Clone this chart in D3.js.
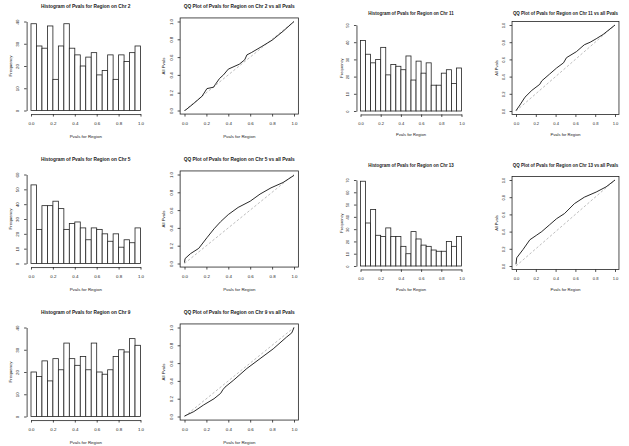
<!DOCTYPE html>
<html><head><meta charset="utf-8">
<script src="https://cdn.jsdelivr.net/npm/d3@7"></script>
<style>
body{margin:0;background:#fff}
svg{display:block}
text{font-family:"Liberation Sans",Arial,sans-serif;fill:#1a1a1a}
</style></head><body>
<svg id="c" width="629" height="446"></svg>
<script>
// ---- data ----
const binEdges = [0,0.05,0.1,0.15,0.2,0.25,0.3,0.35,0.4,0.45,0.5,0.55,0.6,0.65,0.7,0.75,0.8,0.85,0.9,0.95,1.0];
const chromosomes = ["2","5","9","11","13"];
const counts2  = [39,29,28,38,14,29,39,28,25,20,24,26,16,18,25,14,25,22,26,29];
const counts5  = [53,23,39,39,42,37,23,27,28,24,16,24,23,20,15,20,11,16,14,24];
const counts9  = [20,18,25,16,26,21,33,26,23,27,21,33,20,19,21,27,30,29,35,32];
const counts11 = [41,33,28,30,37,21,27,26,24,32,18,29,22,28,15,15,22,24,16,25];
const counts13 = [69,35,46,25,24,31,24,24,16,10,28,22,17,16,13,12,12,20,16,24];
const qq2x  = [0,0.01,0.085,0.16,0.205,0.266,0.28,0.32,0.356,0.40,0.50,0.55,0.57,0.61,0.70,0.80,0.90,1.0];
const qq2y  = [0,0.005,0.08,0.16,0.246,0.262,0.29,0.36,0.40,0.465,0.52,0.57,0.625,0.65,0.715,0.79,0.89,1.0];
const qq5x  = [0,0.005,0.054,0.13,0.205,0.27,0.33,0.40,0.49,0.60,0.69,0.79,0.90,1.0];
const qq5y  = [0.01,0.055,0.11,0.17,0.29,0.39,0.47,0.55,0.63,0.70,0.78,0.85,0.91,0.99];
const qq9x  = [0,0.085,0.175,0.27,0.33,0.35,0.37,0.45,0.57,0.69,0.81,0.93,0.98,1.0];
const qq9y  = [0.005,0.055,0.13,0.20,0.26,0.30,0.33,0.41,0.54,0.65,0.76,0.89,0.94,1.0];
const qq11x = [0,0.04,0.09,0.16,0.24,0.26,0.34,0.41,0.48,0.51,0.61,0.69,0.75,0.81,0.88,1.0];
const qq11y = [0.005,0.07,0.16,0.24,0.31,0.35,0.43,0.50,0.56,0.62,0.69,0.77,0.80,0.84,0.89,1.0];
const qq13x = [0,0.007,0.07,0.14,0.21,0.26,0.34,0.41,0.49,0.59,0.69,0.81,0.91,1.0];
const qq13y = [0.02,0.095,0.19,0.305,0.36,0.40,0.48,0.55,0.61,0.725,0.80,0.86,0.92,1.0];
const pTicks = [0,0.2,0.4,0.6,0.8,1.0];
const pTickLabels = ["0.0","0.2","0.4","0.6","0.8","1.0"];

// ---- layout ----
const panels = [
  {chr:chromosomes[0], counts:counts2,  qx:qq2x,  qy:qq2y,  hx0:31,   hx1:140.5, qx0:184.5, qx1:294, y0:110.5, span:89, fs:1,    tdy:0},
  {chr:chromosomes[1], counts:counts5,  qx:qq5x,  qy:qq5y,  hx0:31,   hx1:140.5, qx0:184.5, qx1:294, y0:263.5, span:89, fs:1,    tdy:0},
  {chr:chromosomes[2], counts:counts9,  qx:qq9x,  qy:qq9y,  hx0:31,   hx1:140.5, qx0:184.5, qx1:294, y0:416.5, span:89, fs:1,    tdy:0},
  {chr:chromosomes[3], counts:counts11, qx:qq11x, qy:qq11y, hx0:360.5,hx1:461.5, qx0:516,   qx1:615, y0:111,   span:86, fs:0.93, tdy:3},
  {chr:chromosomes[4], counts:counts13, qx:qq13x, qy:qq13y, hx0:360.5,hx1:461.5, qx0:516,   qx1:615, y0:266,   span:86, fs:0.93, tdy:0}
];
const svg = d3.select("#c");
const LINE = "#222";

function styleAxis(g, fs, rotate, gap){
  g.select(".domain").attr("stroke", LINE).attr("stroke-width", 0.8);
  g.selectAll(".tick line").attr("stroke", LINE).attr("stroke-width", 0.8);
  const t = g.selectAll(".tick text").attr("font-size", (4.4*fs)+"px").attr("fill","#1a1a1a");
  if (rotate) {
    t.attr("transform","rotate(-90)").attr("x",0).attr("y",-gap).attr("dy","0").attr("text-anchor","middle");
  } else {
    t.attr("y", gap).attr("dy","0.71em");
  }
}

panels.forEach(p => {
  const fs = p.fs;
  // ---------- histogram ----------
  const x = d3.scaleLinear().domain([0,1]).range([p.hx0, p.hx1]);
  const ylim = Math.ceil(d3.max(p.counts)/10)*10;
  const y = d3.scaleLinear().domain([0, ylim]).range([p.y0, p.y0 - p.span]);
  const g = svg.append("g");
  const bins = p.counts.map((c,i) => ({x0:binEdges[i], x1:binEdges[i+1], c}));
  g.selectAll("rect").data(bins).join("rect")
    .attr("x", d => x(d.x0)).attr("width", d => x(d.x1)-x(d.x0))
    .attr("y", d => y(d.c)).attr("height", d => y(0)-y(d.c))
    .attr("fill","#fff").attr("stroke",LINE).attr("stroke-width",0.8);
  const yTicks = d3.range(0, ylim+1, 10);
  g.append("g").attr("transform", `translate(${x(-0.04)},0)`)
    .call(d3.axisLeft(y).tickValues(yTicks).tickFormat(d3.format("d")).tickSize(2.5).tickSizeOuter(0))
    .call(a => styleAxis(a, fs, true, 7.5*fs));
  g.append("g").attr("transform", `translate(0,${y(-0.04*ylim)})`)
    .call(d3.axisBottom(x).tickValues(pTicks).tickFormat((d,i)=>pTickLabels[i]).tickSize(2.5).tickSizeOuter(0))
    .call(a => styleAxis(a, fs, false, 8*fs));
  g.append("text").attr("x", (x(0)+x(1))/2).attr("y", p.y0 - p.span - 14*fs + p.tdy)
    .attr("text-anchor","middle").attr("font-weight","bold").attr("font-size",(4.8*fs)+"px")
    .text(`Histogram of Pvals for Region on Chr ${p.chr}`);
  g.append("text").attr("x", (x(0)+x(1))/2).attr("y", p.y0 + 27*fs)
    .attr("text-anchor","middle").attr("font-size",(4.4*fs)+"px").text("Pvals for Region");
  g.append("text").attr("transform", `translate(${x(-0.04)-15*fs},${(y(0)+y(ylim))/2}) rotate(-90)`)
    .attr("text-anchor","middle").attr("font-size",(4.4*fs)+"px").text("Frequency");

  // ---------- QQ plot ----------
  const qx = d3.scaleLinear().domain([0,1]).range([p.qx0, p.qx1]);
  const qy = d3.scaleLinear().domain([0,1]).range([p.y0, p.y0 - p.span]);
  const q = svg.append("g");
  q.append("rect").attr("x", qx(-0.04)).attr("y", qy(1.04))
    .attr("width", qx(1.04)-qx(-0.04)).attr("height", qy(-0.04)-qy(1.04))
    .attr("fill","none").attr("stroke",LINE).attr("stroke-width",0.8);
  q.append("line").attr("x1",qx(0)).attr("y1",qy(0)).attr("x2",qx(1)).attr("y2",qy(1))
    .attr("stroke","#b5b5b5").attr("stroke-width",0.9).attr("stroke-dasharray","2.5,2");
  const pts = p.qx.map((v,i)=>[v, p.qy[i]]);
  q.append("path").datum(pts)
    .attr("d", d3.line().x(d=>qx(d[0])).y(d=>qy(d[1])))
    .attr("fill","none").attr("stroke","#111").attr("stroke-width",0.9);
  q.append("g").attr("transform", `translate(${qx(-0.04)},0)`)
    .call(d3.axisLeft(qy).tickValues(pTicks).tickFormat((d,i)=>pTickLabels[i]).tickSize(2.5).tickSizeOuter(0))
    .call(a => { a.select(".domain").remove(); styleAxis(a, fs, true, 7.5*fs); });
  q.append("g").attr("transform", `translate(0,${qy(-0.04)})`)
    .call(d3.axisBottom(qx).tickValues(pTicks).tickFormat((d,i)=>pTickLabels[i]).tickSize(2.5).tickSizeOuter(0))
    .call(a => { a.select(".domain").remove(); styleAxis(a, fs, false, 8*fs); });
  q.append("text").attr("x", (qx(0)+qx(1))/2).attr("y", p.y0 - p.span - 14*fs + p.tdy)
    .attr("text-anchor","middle").attr("font-weight","bold").attr("font-size",(4.8*fs)+"px")
    .text(`QQ Plot of Pvals for Region on Chr ${p.chr} vs all Pvals`);
  q.append("text").attr("x", (qx(0)+qx(1))/2).attr("y", p.y0 + 27*fs)
    .attr("text-anchor","middle").attr("font-size",(4.4*fs)+"px").text("Pvals for Region");
  q.append("text").attr("transform", `translate(${qx(-0.04)-15*fs},${(qy(0)+qy(1))/2}) rotate(-90)`)
    .attr("text-anchor","middle").attr("font-size",(4.4*fs)+"px").text("All Pvals");
});
</script>
</body></html>
